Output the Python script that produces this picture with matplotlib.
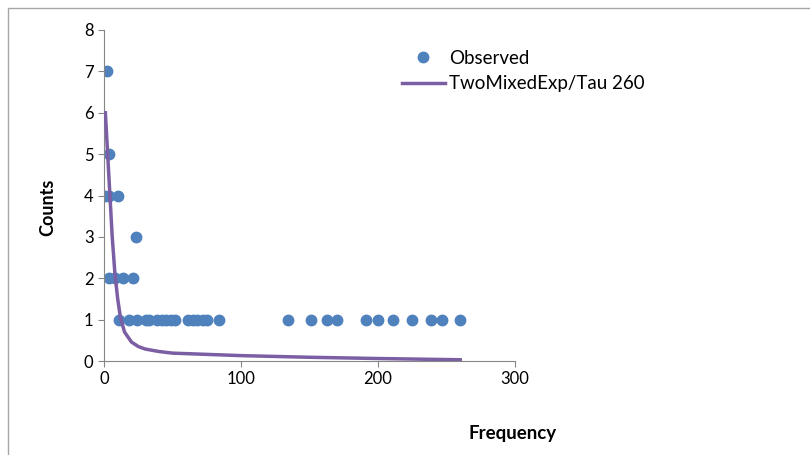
import matplotlib
matplotlib.use("Agg")
import matplotlib.pyplot as plt
from matplotlib.patches import Rectangle

plt.rcParams['font.family'] = ['Lato', 'DejaVu Sans']

# observed points (frequency, counts)
obs_freq = [2, 4, 1, 4, 10, 23, 4, 8, 14, 21,
            11, 18, 24, 31, 33, 39, 42, 45, 49, 52, 61, 65, 68, 72, 75, 84,
            134, 151, 163, 170, 191, 200, 211, 225, 239, 247, 260]
obs_counts = [7, 5, 4, 4, 4, 3, 2, 2, 2, 2,
              1, 1, 1, 1, 1, 1, 1, 1, 1, 1, 1, 1, 1, 1, 1, 1,
              1, 1, 1, 1, 1, 1, 1, 1, 1, 1, 1]

# fitted curve
fit_freq = [1, 2, 3, 4, 6, 8, 10, 12, 15, 20, 25, 30, 40, 50, 75, 100, 150, 200, 260]
fit_counts = [6.0, 5.4, 4.8, 4.2, 3.0, 2.1, 1.5, 1.05, 0.7, 0.46, 0.35, 0.29, 0.23,
              0.19, 0.16, 0.13, 0.09, 0.06, 0.03]

fig = plt.figure(figsize=(8.1, 4.55), dpi=100)
fig.patches.append(Rectangle((8 / 810, -0.05), 1.0, 1 - 8 / 455 + 0.05,
                             transform=fig.transFigure, fill=False,
                             edgecolor='#a6a6a6', lw=1))
ax = fig.add_axes([104 / 810, 1 - 361 / 455, 411 / 810, 331 / 455])

ax.plot(obs_freq, obs_counts, 'o', color='#4f81bd', ms=7.5, mec='#4f81bd',
        label='Observed', zorder=2)
ax.plot(fit_freq, fit_counts, '-', color='#7b5ea3', lw=2.5,
        label='TwoMixedExp/Tau 260', zorder=3)

ax.set_xlim(0, 300)
ax.set_ylim(0, 8)
ax.set_xticks([0, 100, 200, 300])
ax.set_yticks(range(9))
for s in ['top', 'right']:
    ax.spines[s].set_visible(False)
for s in ['left', 'bottom']:
    ax.spines[s].set_color('#868686')
ax.tick_params(colors='#868686', labelcolor='black', labelsize=12, length=4)

fig.text(48 / 810, 1 - 207 / 455, 'Counts', rotation=90, ha='center', va='center',
         fontsize=13, fontweight='bold')
fig.text(513 / 810, 1 - 433 / 455, 'Frequency', ha='center', va='center',
         fontsize=13.5, fontweight='bold')

ax.legend(loc='upper left', bbox_to_anchor=(385 / 810, 1 - 33 / 455),
          bbox_transform=fig.transFigure, frameon=False, fontsize=13.5,
          handlelength=2.3, handletextpad=0.2, labelspacing=0.45)

fig.savefig('out.png', dpi=100)
